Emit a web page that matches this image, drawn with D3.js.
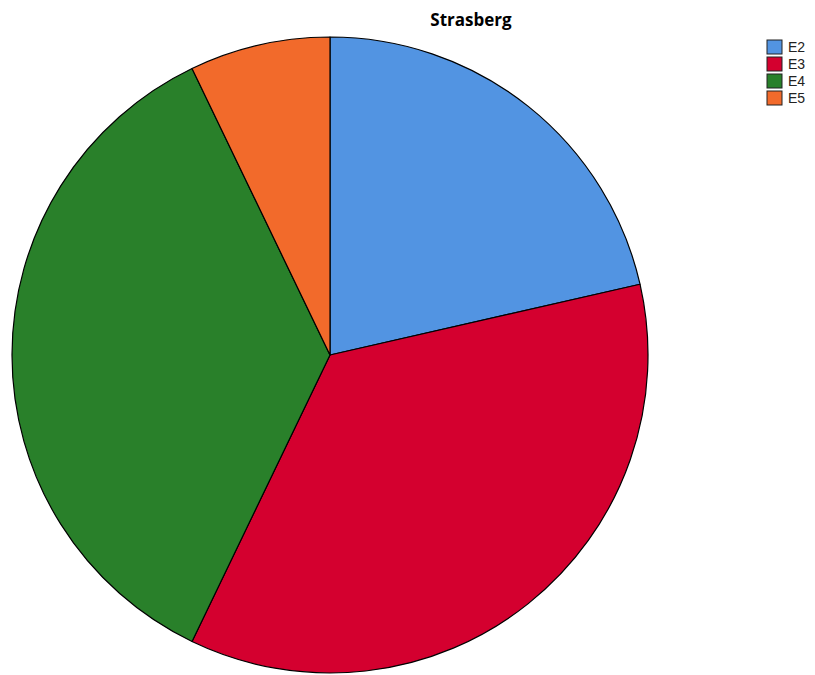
<!DOCTYPE html>
<html>
<head>
<meta charset="utf-8">
<script src="https://cdn.jsdelivr.net/npm/d3@7"></script>
<style>
  body { margin: 0; background: #fff; }
  text { font-family: "Open Sans", "DejaVu Sans", sans-serif; }
</style>
</head>
<body>
<svg width="815" height="675"></svg>
<script>
var categories = ["E2", "E3", "E4", "E5"];
var counts = [3, 5, 5, 1];
var colors = ["#5294e2", "#d4002f", "#29802a", "#f26a2b"];

var svg = d3.select("svg");
var cx = 330, cy = 355, radius = 318;
// pie centre and size

svg.append("text")
    .attr("x", 471)
    .attr("y", 26)
    .attr("text-anchor", "middle")
    .style("font-size", "17px")
    .style("font-weight", "bold")
    .text("Strasberg");

var data = categories.map(function(c, i) { return {name: c, value: counts[i]}; });

var color = d3.scaleOrdinal().domain(categories).range(colors);

var pie = d3.pie().sort(null).value(function(d) { return d.value; });
var arc = d3.arc().innerRadius(0).outerRadius(radius);

var g = svg.append("g")
    .attr("transform", "translate(" + cx + "," + cy + ")");

g.selectAll("path")
  .data(pie(data))
  .enter().append("path")
    .attr("d", arc)
    .attr("fill", function(d) { return color(d.data.name); })
    .attr("stroke", "#000")
    .attr("stroke-width", 1.2)
    .attr("stroke-linejoin", "round");
// draw slices clockwise from the top

var legend = svg.append("g")
    .attr("transform", "translate(767,40)");

var item = legend.selectAll("g")
  .data(categories)
  .enter().append("g")
    .attr("transform", function(d, i) { return "translate(0," + i * 17 + ")"; });

item.append("rect")
    .attr("width", 15)
    .attr("height", 14)
    .attr("fill", function(d) { return color(d); })
    .attr("stroke", "#222")
    .attr("stroke-width", 1);

item.append("text")
    .attr("x", 21)
    .attr("y", 12)
    .style("font-family", "'Liberation Sans', Arial, sans-serif")
    .style("font-size", "14px")
    .attr("fill", "#222")
    .text(function(d) { return d; });
</script>
</body>
</html>
